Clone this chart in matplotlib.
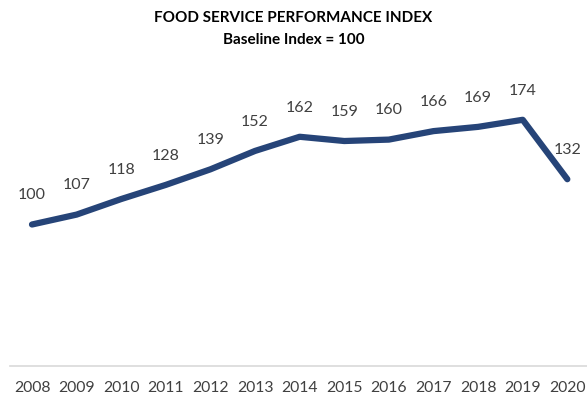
import matplotlib
matplotlib.use("Agg")
import matplotlib.pyplot as plt

years = ["2008", "2009", "2010", "2011", "2012", "2013", "2014",
         "2015", "2016", "2017", "2018", "2019", "2020"]
index_values = [100, 107, 118, 128, 139, 152, 162, 159, 160, 166, 169, 174, 132]

plt.rcParams['font.family'] = ['Lato', 'DejaVu Sans']

fig = plt.figure(figsize=(5.87, 4.0), dpi=100)
ax = fig.add_axes([0.0165, 0.085, 0.988, 0.7075])

x = list(range(len(years)))
ax.plot(x, index_values, color="#264478", linewidth=4.5, solid_capstyle="round",
        solid_joinstyle="round")
for xi, v in zip(x, index_values):
    ax.annotate(str(v), (xi, v), xytext=(0, 21), textcoords="offset points",
                ha="center", va="center", fontsize=11.5, color="#404040")

ax.set_xlim(-0.5, len(years) - 0.5)
ax.set_ylim(0, 200)
ax.set_xticks(x)
ax.set_xticklabels(years, fontsize=11.3, color="#404040")
ax.tick_params(axis="x", length=0, pad=11)
ax.set_yticks([])
for s in ["top", "right", "left"]:
    ax.spines[s].set_visible(False)
ax.spines["bottom"].set_color("#D9D9D9")
ax.spines["bottom"].set_linewidth(1.2)

fig.text(0.5, 0.955, "FOOD SERVICE PERFORMANCE INDEX", ha="center", va="center",
         fontsize=11, fontweight="bold", color="black")
fig.text(0.5, 0.9, "Baseline Index = 100", ha="center", va="center",
         fontsize=11, fontweight="bold", color="black")

fig.savefig("out.png", dpi=100)
